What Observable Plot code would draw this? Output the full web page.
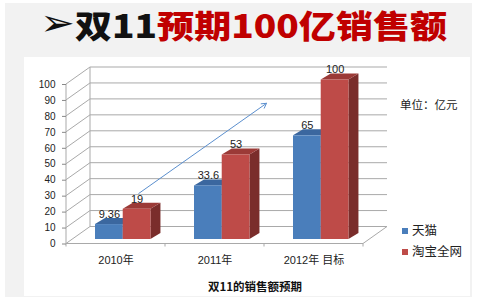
<!DOCTYPE html>
<html><head><meta charset="utf-8">
<script src="https://cdn.jsdelivr.net/npm/d3@7"></script>
<script src="https://cdn.jsdelivr.net/npm/@observablehq/plot@0.6"></script>
<style>
body{margin:0;background:#fff;}
#wrap{position:relative;width:482px;height:307px;overflow:hidden;font-family:"Noto Sans CJK SC","Liberation Sans",sans-serif;}
#bg{position:absolute;left:5px;top:3px;width:467px;height:294px;background:#f2f2f2;}
#panel{position:absolute;left:24px;top:57px;width:446px;height:239px;background:#fff;}
#title{position:absolute;left:40px;top:8px;font-size:32px;line-height:32px;font-weight:900;white-space:nowrap;transform-origin:0 0;}
#title .a{color:#111;font-family:"DejaVu Sans",sans-serif;font-weight:bold;font-size:36px;line-height:32px;vertical-align:top;position:relative;top:-1px;}
#title .b{color:#111;}
#title .c{color:#c00000;}
#chart{position:absolute;left:0;top:0;}
.lg{position:absolute;font-size:12.5px;color:#222;white-space:nowrap;line-height:14px;}
.sw{display:inline-block;width:6px;height:6px;margin-right:4px;vertical-align:middle;position:relative;top:-1px;}
#unit{position:absolute;left:400px;top:97px;font-size:11.5px;line-height:14px;color:#222;white-space:nowrap;}
#cap{position:absolute;left:0;width:510px;text-align:center;top:279px;font-size:11.5px;line-height:14px;font-weight:bold;color:#111;}
</style></head>
<body>
<div id="wrap">
  <div id="bg"></div>
  <div id="panel"></div>
  <div id="title"><span class="a">➢</span><span class="b">双11</span><span class="c">预期100亿销售额</span></div>
  <div id="chart"></div>
  <div id="unit">单位：亿元</div>
  <div id="leg"></div>
  <div id="cap">双11的销售额预期</div>
</div>
<script>
const categories = ["2010年", "2011年", "2012年 目标"];
const seriesNames = ["天猫", "淘宝全网"];
const tmall = [9.36, 33.6, 65];
const taobao = [19, 53, 100];
const tmallLabels = ["9.36", "33.6", "65"];
const taobaoLabels = ["19", "53", "100"];
const yTicks = [0, 10, 20, 30, 40, 50, 60, 70, 80, 90, 100];
// trend arrow: category-position (0..3) and value at its two ends
const trendX = [0.73, 2.02];
const trendY = [31.7, 88.2];

const colors = {
  front: ["#4a7ebb", "#be4b48"],
  top: ["#3b679f", "#9b3a37"],
  side: ["#2f5380", "#7a2d2b"]
};
const grid = "#a9a9a9";

// 3D layout constants
const WALL_DX = 24, WALL_DY = -17;
const PLANE_DY = -4.5;
const DEPTH_DX = 10, DEPTH_DY = -6;
const GROUP_START = 0.293, BAR_W = 0.28;

function frame(index, {x, y}) {
  const g = d3.create("svg:g").attr("fill", "none").attr("stroke", grid).attr("stroke-width", 1);
  const x0 = x(0), x3 = x(categories.length);
  for (const t of yTicks) {
    const py = y(t);
    g.append("path").attr("d", `M${x0},${py}L${x0 + WALL_DX},${py + WALL_DY}L${x3 + WALL_DX},${py + WALL_DY}`);
  }
  g.append("line").attr("x1", x0 + WALL_DX).attr("x2", x0 + WALL_DX)
    .attr("y1", y(0) + WALL_DY).attr("y2", y(100) + WALL_DY);
  g.append("path").attr("d", `M${x0},${y(0)}L${x3},${y(0)}L${x3 + WALL_DX},${y(0) + WALL_DY}`);
  for (let i = 0; i <= categories.length; i++) {
    g.append("line").attr("x1", x(i)).attr("x2", x(i)).attr("y1", y(0)).attr("y2", y(0) + 3);
  }
  g.append("line").attr("x1", x0).attr("x2", x0).attr("y1", y(100)).attr("y2", y(0));
  return g.node();
}

function bars(index, {x, y}) {
  const g = d3.create("svg:g");
  const series = [tmall, taobao];
  categories.forEach((c, i) => {
    series.forEach((vals, k) => {
      const v = vals[i];
      const xl = x(i + GROUP_START + k * BAR_W), xr = x(i + GROUP_START + (k + 1) * BAR_W);
      const yt = y(v) + PLANE_DY, yb = y(0) + PLANE_DY;
      g.append("path").attr("fill", colors.side[k])
        .attr("d", `M${xr},${yt}L${xr + DEPTH_DX},${yt + DEPTH_DY}L${xr + DEPTH_DX},${yb + DEPTH_DY}L${xr},${yb}Z`);
      g.append("path").attr("fill", colors.top[k])
        .attr("d", `M${xl},${yt}L${xr},${yt}L${xr + DEPTH_DX},${yt + DEPTH_DY}L${xl + DEPTH_DX},${yt + DEPTH_DY}Z`);
      g.append("rect").attr("fill", colors.front[k])
        .attr("x", xl).attr("y", yt).attr("width", xr - xl).attr("height", yb - yt);
    });
  });
  return g.node();
}

const chart = Plot.plot({
  width: 482, height: 307,
  marginLeft: 66, marginRight: 119, marginTop: 84, marginBottom: 63.5,
  style: {background: "transparent", fontFamily: "'Liberation Sans','Noto Sans CJK SC',sans-serif", overflow: "visible"},
  x: {type: "linear", domain: [0, categories.length], axis: null},
  y: {domain: [0, 100], axis: null},
  marks: [
    frame,
    Plot.axisY({ticks: yTicks, tickSize: 4, tickPadding: 7, fontSize: 10, stroke: "#888", fill: "#222", label: null}),
    Plot.axisX({ticks: categories.map((c, i) => i + 0.5), tickFormat: d => categories[Math.floor(d)], tickSize: 0, tickPadding: 12, fontSize: 11, fill: "#222", label: null}),
    bars,
    Plot.text(tmall, {x: (d, i) => i + GROUP_START + BAR_W / 2, y: d => d, text: (d, i) => tmallLabels[i], dy: -14.7, fontSize: 11, fill: "#222"}),
    Plot.text(taobao, {x: (d, i) => i + GROUP_START + BAR_W * 1.5, y: d => d, text: (d, i) => taobaoLabels[i], dy: -14.7, fontSize: 11, fill: "#222"}),
    Plot.arrow([0], {x1: () => trendX[0], y1: () => trendY[0], x2: () => trendX[1], y2: () => trendY[1], stroke: "#5b8fce", strokeWidth: 1, headLength: 8})
  ]
});
document.getElementById("chart").appendChild(chart);

const leg = document.getElementById("leg");
seriesNames.forEach((n, k) => {
  const d = document.createElement("div");
  d.className = "lg";
  d.style.left = "402px";
  d.style.top = (223 + k * 21) + "px";
  d.innerHTML = `<span class="sw" style="background:${colors.front[k]}"></span>${n}`;
  leg.appendChild(d);
});

const t = document.getElementById("title");
const w = t.getBoundingClientRect().width;
t.style.transform = `scaleX(${407 / w})`;
</script>
</body></html>
